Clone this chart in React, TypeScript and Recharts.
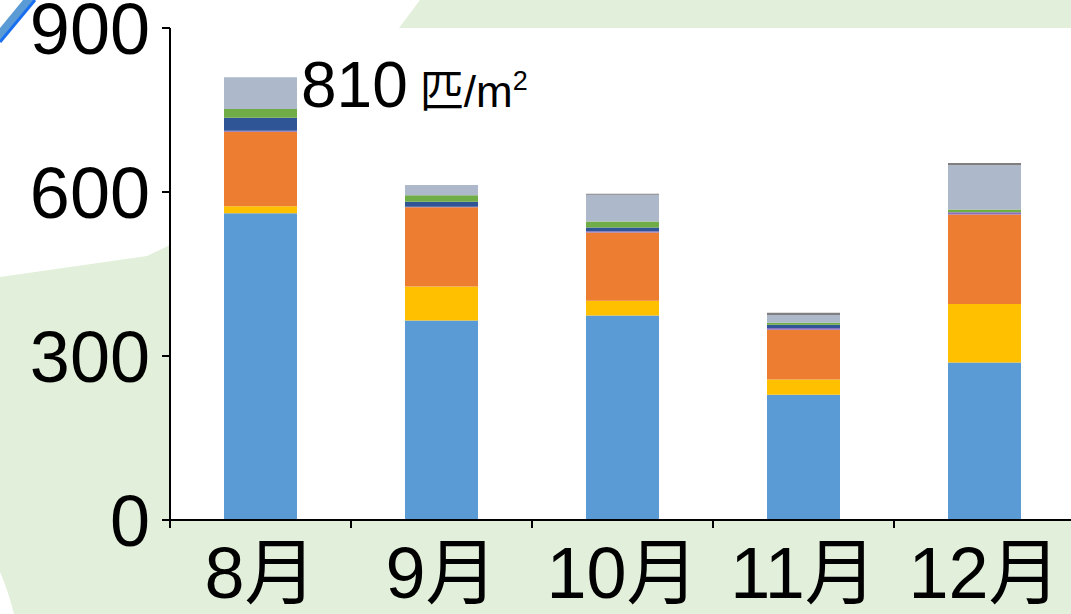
import React from 'react'
import { Bar, BarChart, LabelList, XAxis, YAxis } from 'recharts'

const months = ['8月', '9月', '10月', '11月', '12月']

// stacked components per month, bottom to top
const blue = [561, 365, 374, 229, 288]
const yellow = [13, 62, 27, 28, 107]
const orange = [136, 145, 125, 91, 164]
const purple = [2, 1, 2, 3, 4]
const navy = [24, 9, 7, 6, 0]
const green = [16, 12, 11, 4, 5]
const slate = [58, 19, 49, 14, 81]
const gray = [0, 0, 2, 4, 4]

const yTicks = [0, 300, 600, 900]

const series = [
  { key: 'blue', values: blue, color: '#5b9bd5' },
  { key: 'yellow', values: yellow, color: '#ffc000' },
  { key: 'orange', values: orange, color: '#ed7d31' },
  { key: 'purple', values: purple, color: '#8a6fbf' },
  { key: 'navy', values: navy, color: '#2f5597' },
  { key: 'green', values: green, color: '#70ad47' },
  { key: 'slate', values: slate, color: '#adb9ca' },
  { key: 'gray', values: gray, color: '#7f7f7f' },
]

const data = months.map((month, i) => {
  const row: Record<string, any> = { month }
  let total = 0
  series.forEach((s) => {
    row[s.key] = s.values[i]
    total += s.values[i]
  })
  row.total = total
  return row
})

const FONT = '"Liberation Sans", Arial, "Noto Sans CJK JP", sans-serif'

// month label centred, tick marks on the category boundaries
const MonthTick = (props: any) => {
  const { x, y, payload, index, width } = props
  const band = (width || 905) / months.length
  return (
    <g>
      <line x1={x - band / 2} x2={x - band / 2} y1={y} y2={y + 8} stroke="#000" strokeWidth={2} />
      {index === months.length - 1 && (
        <line x1={x + band / 2} x2={x + band / 2} y1={y} y2={y + 8} stroke="#000" strokeWidth={2} />
      )}
      <text x={x} y={y + 27} dy="0.71em" textAnchor="middle" fontSize={72} fill="#000">
        {payload.value}
      </text>
    </g>
  )
}

const TotalLabel = (props: any) => {
  const { x, y, width, index } = props
  if (index !== 0) return null
  return (
    <text x={x + width + 4} y={y + 30} fill="#000">
      <tspan fontSize={64}>{data[0].total}</tspan>
      <tspan dx={12} fontSize={44}>匹</tspan>
      <tspan fontSize={44}>/m</tspan>
      <tspan fontSize={27} dy={-17}>2</tspan>
    </text>
  )
}

export default function App() {
  return (
    <div
      style={{
        position: 'fixed',
        left: 0,
        top: 0,
        width: 1071,
        height: 614,
        overflow: 'hidden',
        background: '#fff',
        fontFamily: FONT,
      }}
    >
      {/* backdrop panels */}
      <svg width={1071} height={614} style={{ position: 'absolute', left: 0, top: 0 }}>
        <polygon points="420,0 1071,0 1071,28 399,28" fill="#e2efda" />
        <path
          d="M0,277 L147,256 L170,245 L170,520 L1071,520 L1071,614 L14,614 Q8,590 0,572 Z"
          fill="#e2efda"
        />
        <polygon points="0,28 23,0 35,0 0,42" fill="#5b9bd5" />
        <line x1={0} y1={42} x2={35} y2={0} stroke="#1a6ff0" strokeWidth={3} />
      </svg>
      <div style={{ position: 'absolute', left: 0, top: 0 }}>
        <BarChart
          width={1080}
          height={614}
          data={data}
          margin={{ top: 28, right: 5, bottom: 0, left: 0 }}
          barSize={73}
        >
          <XAxis
            dataKey="month"
            height={94}
            axisLine={{ stroke: '#000', strokeWidth: 2 }}
            tickLine={false}
            tickSize={0}
            tickMargin={0}
            interval={0}
            tick={<MonthTick />}
          />
          <YAxis
            width={170}
            domain={[0, 900]}
            ticks={yTicks}
            interval={0}
            axisLine={{ stroke: '#000', strokeWidth: 2 }}
            tickLine={{ stroke: '#000', strokeWidth: 2 }}
            tickSize={8}
            tickMargin={12}
            tick={{ fontSize: 72, fill: '#000' }}
          />
          {series.map((s) => (
            <Bar
              key={s.key}
              dataKey={s.key}
              stackId="a"
              fill={s.color}
              isAnimationActive={false}
            >
              {s.key === 'slate' && <LabelList dataKey="total" content={<TotalLabel />} />}
            </Bar>
          ))}
        </BarChart>
      </div>
    </div>
  )
}
